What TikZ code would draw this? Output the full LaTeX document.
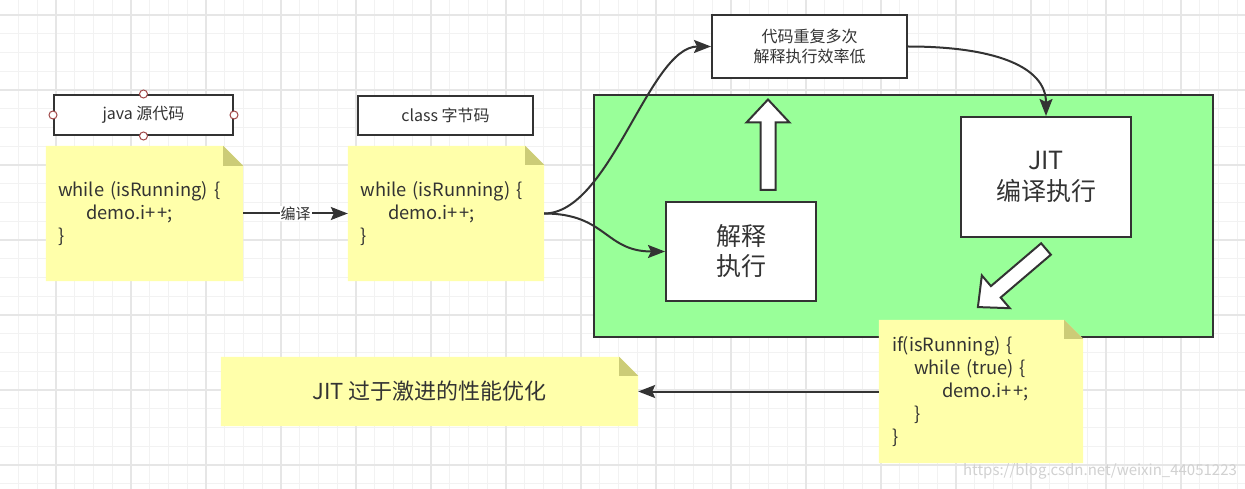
\documentclass[tikz,border=0pt]{standalone}
\usepackage{fontspec}
\setmainfont{Noto Sans CJK SC}
\usetikzlibrary{arrows.meta}
\definecolor{ink}{HTML}{333333}
\definecolor{notey}{HTML}{FFFFAA}
\definecolor{notefold}{HTML}{CCCC77}
\definecolor{greenbg}{HTML}{99FF99}
\definecolor{gridminor}{HTML}{F2F2F2}
\definecolor{gridmajor}{HTML}{E6E6E6}
\definecolor{handlec}{HTML}{A04848}
\pgfdeclarelayer{gridlayer}
\pgfdeclarelayer{background}
\pgfsetlayers{gridlayer,background,main}
\newcommand\fsz[2]{\fontsize{#1}{#2}\selectfont}
\newcommand\pp{+\kern1.5pt+}
\newcommand\notefill[2]{%
  \fill[notey] (#1.north west) -- ([xshift=-#2pt]#1.north east) -- ([yshift=-#2pt]#1.north east)
     -- (#1.south east) -- (#1.south west) -- cycle;
  \fill[notefold] ([xshift=-#2pt]#1.north east) -- ([xshift=-#2pt,yshift=-#2pt]#1.north east)
     -- ([yshift=-#2pt]#1.north east) -- cycle;}
\tikzset{
  box/.style={draw=ink, line width=2pt, fill=white, inner sep=0pt, text=ink, align=center},
  notebox/.style={inner sep=0pt, text=ink},
  conn/.style={draw=ink, line width=2pt, -{Stealth[length=17pt,width=13pt,inset=3pt]}},
  hollow/.style={draw=ink, line width=2pt, fill=white, line join=miter},
  handle/.style={circle, draw=handlec, line width=1pt, fill=white, inner sep=0pt, minimum size=8pt},
  codefont/.style={font=\fsz{18.3}{23}},
}
\begin{document}
\begin{tikzpicture}[x=1pt,y=-1pt]
\useasboundingbox (0,0) rectangle (1245,489);
\begin{pgfonlayer}{gridlayer}
  \fill[white] (0,0) rectangle (1245,489);
  \foreach \x in {-0.25,18.5,...,1250} \draw[gridminor, line width=1pt] (\x,0) -- (\x,489);
  \foreach \y in {-3.75,15,...,495} \draw[gridminor, line width=1pt] (0,\y) -- (1245,\y);
  \foreach \x in {56,131,...,1250} \draw[gridmajor, line width=1.2pt] (\x,0) -- (\x,489);
  \foreach \y in {15,90,...,495} \draw[gridmajor, line width=1.2pt] (0,\y) -- (1245,\y);
\end{pgfonlayer}

% green region
\begin{pgfonlayer}{background}
  \node[draw=ink, line width=2pt, fill=greenbg, inner sep=0pt, minimum width=619pt, minimum height=242pt] (jvm) at (903.5,216) {};
\end{pgfonlayer}

% top label boxes
\node[box, minimum width=179pt, minimum height=40pt, font=\fsz{16}{20}] (java) at (143.5,115) {java 源代码};
\node[handle] (h1) at (java.north) {};
\node[handle] (h2) at (java.south) {};
\node[handle] (h3) at (java.west) {};
\node[handle] (h4) at (java.east) {};
\node[box, minimum width=175pt, minimum height=39pt, font=\fsz{16}{20}] (cls) at (445.5,115.5) {class 字节码};

% notes
\node[notebox, codefont, minimum width=197pt, minimum height=135pt, text width=173pt, align=left] (n1) at (144.5,213.5)
  {while (isRunning) \{\\\hspace*{28pt}demo.i\pp;\\\}};
\node[notebox, codefont, minimum width=196pt, minimum height=135pt, text width=171pt, align=left] (n2) at (446,213.5)
  {while (isRunning) \{\\\hspace*{28pt}demo.i\pp;\\\}};
\node[notebox, codefont, minimum width=204pt, minimum height=143pt, text width=178pt, align=left] (n3) at (981,391.5)
  {if(isRunning) \{\\\hspace*{22pt}while (true) \{\\\hspace*{50pt}demo.i\pp;\\\hspace*{22pt}\}\\\}};
\node[notebox, minimum width=417pt, minimum height=69pt, align=center, font=\fsz{22}{26}] (n4) at (429.5,391.5)
  {JIT 过于激进的性能优化};
\begin{pgfonlayer}{background}
  \notefill{n1}{20}
  \notefill{n2}{19}
  \notefill{n3}{19}
  \notefill{n4}{19}
\end{pgfonlayer}

% boxes inside / above the green region
\node[box, minimum width=195pt, minimum height=63pt, font=\fsz{16}{20.5}] (slow) at (809.5,46.5) {代码重复多次\\解释执行效率低};
\node[box, minimum width=150pt, minimum height=99pt, font=\fsz{25}{30}] (interp) at (741,251.5) {解释\\执行};
\node[box, minimum width=170pt, minimum height=120pt, font=\fsz{25}{31}] (jit) at (1046,177) {JIT\\编译执行};

% hollow block arrows
\draw[hollow] (760.5,190) -- (775.5,190) -- (775.5,122.5) -- (789.5,122.5) -- (768,99.5)
  -- (746.5,122.5) -- (760.5,122.5) -- cycle;
\begin{scope}[shift={(1046,249)}, rotate=220.46]
  \draw[hollow] (0,-7.5) -- (66,-7.5) -- (66,-21.5) -- (89.5,0) -- (66,21.5) -- (66,7.5) -- (0,7.5) -- cycle;
\end{scope}

% connectors
\draw[conn] (n1.east) -- node[fill=white, inner sep=1pt, text=ink, font=\fsz{15}{18}] (lbl) {编译} (n2.west);
\draw[conn] (n2.east) .. controls +(62,0) and +(-60,0) .. (interp.west);
\draw[conn] (n2.east) .. controls +(66,0) and +(-62,0) .. (slow.west);
\draw[conn] (slow.east) .. controls +(85,0) and +(0,-50) .. (jit.north);
\draw[conn] (n3.west) -- (n4.east);

% watermark
\node[text=black!18, font=\fsz{15}{18}] (wm) at (1100,471) {https://blog.csdn.net/weixin\_44051223};
\end{tikzpicture}
\end{document}
